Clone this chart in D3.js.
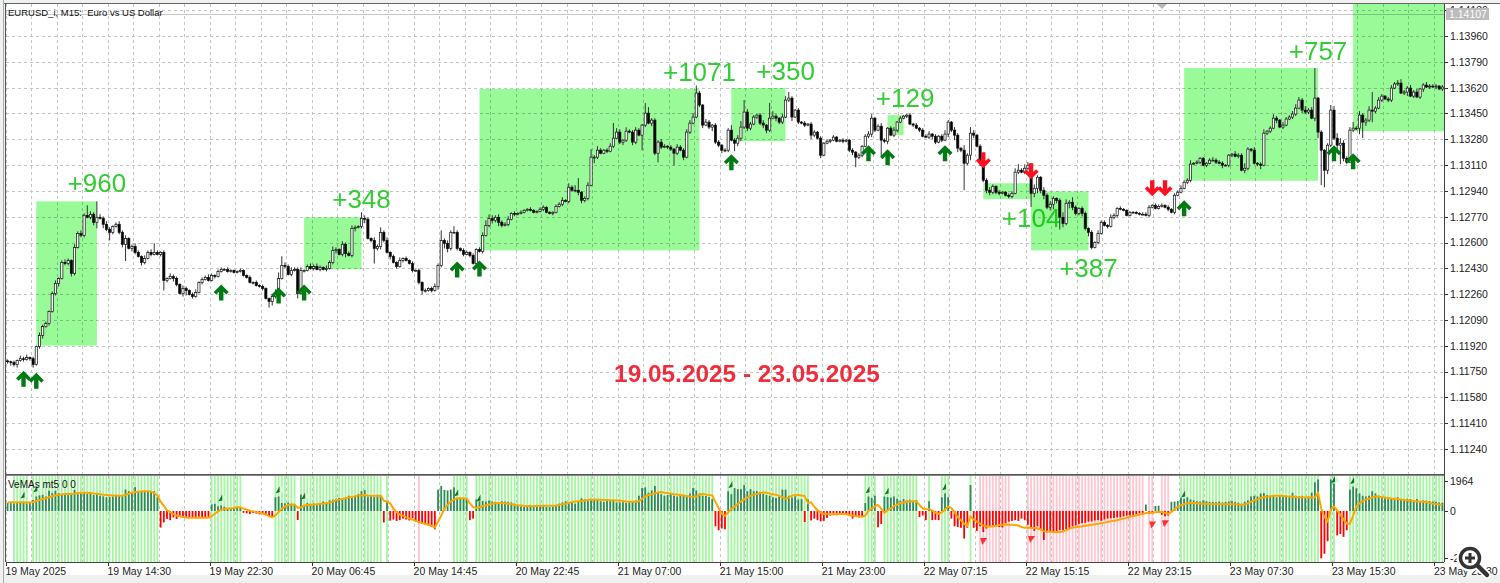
<!DOCTYPE html>
<html lang="en">
	<head>
		<meta charset="utf-8">
		<title>EURUSD M15 19.05.2025 - 23.05.2025</title>
		<script type="text/javascript" src="https://cdn.jsdelivr.net/npm/d3@7/dist/d3.min.js"></script>
		<style type="text/css">
			html, body { margin: 0; padding: 0; background: #fff; overflow: hidden; }
			svg { display: block; font-family: "Liberation Sans", Arial, sans-serif; }
			.grid { stroke: #c4c4c4; stroke-width: 1; stroke-dasharray: 3,3; fill: none; shape-rendering: crispEdges; }
			.axis path { display: none; }
			.axis line { stroke: #333; shape-rendering: crispEdges; }
			.axis text { fill: #222; font-size: 10.5px; font-family: "Liberation Sans", Arial, sans-serif; }
		</style>
	</head>
	<body>
		<script type="text/javascript">

			//Price axis values
			let priceTicks = [1.1413, 1.1396, 1.1379, 1.1362, 1.1345, 1.1328, 1.1311, 1.1294, 1.1277, 1.126, 1.1243, 1.1226, 1.1209, 1.1192, 1.1175, 1.1158, 1.1141, 1.1124];
			let lastPrice = 1.14107;

			//Time axis labels, one every 32 bars
			let timeLabels = ["19 May 2025", "19 May 14:30", "19 May 22:30", "20 May 06:45", "20 May 14:45", "20 May 22:45", "21 May 07:00", "21 May 15:00", "21 May 23:00", "22 May 07:15", "22 May 15:15", "22 May 23:15", "23 May 07:30", "23 May 15:30", "23 May 23:30"];

			//Prices are kept in points above this base
			let basePrice = 1.11;
			let firstOpen = 820;

			let closes = [
				815,809,796,822,835,829,842,835,796,914,987,1046,1066,1145,1264,1330,1363,1469,1462,1482,1396,1568,1660,1647,1779,1766,1786,1733,1766,1759,1720,1687,
				1667,1706,1720,1667,1588,1627,1561,1574,1535,1508,1469,1495,1535,1522,1535,1522,1535,1350,1363,1376,1363,1324,1264,1297,1284,1258,1244,1271,1337,1357,1370,1350,
				1383,1376,1409,1423,1423,1409,1416,1403,1409,1416,1383,1370,1337,1337,1317,1310,1297,1231,1211,1244,1271,1363,1449,1442,1390,1416,1423,1264,1416,1416,1442,1429,
				1442,1423,1436,1423,1429,1469,1548,1555,1522,1588,1528,1515,1693,1700,1706,1759,1753,1627,1614,1561,1574,1667,1614,1535,1508,1469,1442,1482,1495,1482,1462,1416,
				1416,1337,1284,1284,1297,1284,1310,1449,1614,1594,1561,1667,1667,1561,1548,1522,1535,1515,1462,1555,1541,1647,1713,1759,1746,1766,1733,1713,1720,1753,1792,1786,
				1792,1799,1812,1819,1812,1799,1805,1819,1832,1799,1792,1799,1838,1852,1878,1871,1964,1944,1944,1931,1878,1891,1977,2162,2162,2208,2188,2208,2201,2234,2287,2327,
				2261,2274,2333,2327,2261,2340,2307,2373,2452,2386,2406,2188,2261,2228,2234,2228,2215,2188,2228,2208,2162,2327,2386,2426,2584,2505,2373,2393,2360,2373,2261,2241,
				2208,2208,2340,2274,2254,2287,2360,2459,2353,2380,2426,2439,2386,2373,2340,2419,2432,2419,2393,2426,2538,2551,2426,2472,2393,2386,2373,2380,2307,2327,2287,2175,
				2254,2267,2274,2294,2267,2274,2267,2274,2208,2195,2162,2175,2234,2300,2314,2419,2340,2366,2274,2267,2353,2307,2340,2393,2419,2432,2439,2380,2373,2353,2340,2300,2294,
				2314,2300,2261,2300,2274,2314,2393,2340,2307,2221,2208,2122,2175,2320,2307,2234,2129,2010,1944,1931,1970,1931,1924,1931,1911,1904,1924,2063,2076,2063,2089,2109,
				1924,1957,2030,1944,1911,1832,1852,1891,1878,1766,1726,1858,1865,1832,1792,1825,1792,1693,1667,1568,1601,1660,1733,1713,1706,1766,1779,1825,1819,1812,1779,1799,
				1799,1792,1786,1786,1779,1832,1845,1825,1838,1845,1832,1819,1799,1911,1931,1957,1997,2010,2116,2122,2129,2155,2109,2122,2142,2142,2129,2122,2109,2109,2175,2182,
				2168,2175,2076,2089,2215,2208,2122,2116,2109,2320,2333,2353,2419,2406,2360,2373,2413,2426,2446,2485,2538,2472,2459,2472,2419,2551,2327,2208,2076,2241,2472,2287,2241,2254,2155,2129,2340,2353,2353,2439,2393,2406,2472,2465,2485,2538,2564,2545,2538,2617,2644,2650,2584,2591,2617,2564,2591,2558,2611,2637,2624,2630,2624,2630,2611,2624
			];

			//Wick lengths in points above the body
			let wickUp = [
				10,7,13,7,20,13,20,7,13,7,20,13,13,7,13,20,7,13,20,13,7,20,13,20,13,66,20,13,105,20,13,20,
				13,7,13,20,13,20,7,13,20,13,7,20,13,20,60,13,7,13,7,20,13,13,7,20,13,7,13,20,7,13,13,20,
				13,7,13,13,7,13,7,7,7,13,7,7,13,7,13,7,13,7,7,13,20,40,60,20,13,20,13,13,20,7,13,20,
				13,20,13,7,20,13,26,13,7,20,13,13,20,13,7,40,20,13,7,20,13,33,13,20,7,13,7,20,7,13,7,13,
				7,13,7,13,7,13,20,13,66,13,20,13,40,13,7,13,13,7,13,7,13,20,33,26,20,13,20,13,13,20,7,13,
				7,13,7,7,13,7,7,13,13,7,7,7,13,13,20,7,26,13,33,80,7,13,20,53,13,26,13,7,13,20,100,26,
				20,7,26,13,13,20,13,7,66,40,13,13,13,20,13,7,13,7,20,13,13,20,20,26,50,13,7,20,13,7,13,13,
				7,13,13,33,13,20,40,79,20,13,13,7,13,20,7,100,33,13,7,20,26,40,13,7,13,7,13,7,13,13,7,13,
				7,13,7,13,7,7,13,7,7,13,7,13,7,13,20,26,7,13,20,13,7,13,20,7,13,7,7,13,7,13,7,13,
				13,20,7,13,7,13,26,13,7,20,13,7,33,13,40,20,7,13,7,13,20,13,7,13,7,7,13,13,26,40,13,26,
				20,13,26,13,7,20,13,20,13,7,13,33,26,13,33,13,7,13,13,7,13,7,20,13,13,7,20,13,7,13,7,7,
				7,7,7,7,13,13,13,7,13,13,13,7,13,7,13,13,20,13,13,26,7,13,7,7,7,13,20,13,13,13,7,7,
				7,20,13,13,33,13,7,20,7,13,26,7,13,26,13,7,20,13,13,20,26,20,13,26,13,20,198,7,13,7,13,33,
				26,33,33,20,13,20,40,13,26,13,13,26,119,13,20,13,7,13,20,13,20,26,13,13,20,13,20,7,13,20,13,13,
				13,7,13
			];

			//Wick lengths in points below the body
			let wickDown = [
				13,20,13,20,7,13,7,13,20,7,13,20,7,13,7,13,20,7,13,13,20,13,7,13,13,7,13,20,40,7,26,13,
				53,13,7,13,20,110,7,20,13,7,20,13,7,13,7,7,13,66,13,7,20,13,7,20,33,7,13,7,7,13,7,7,
				7,13,7,7,7,7,7,7,7,7,7,7,7,13,7,7,13,7,40,26,13,26,7,13,7,13,7,33,7,13,7,7,
				13,7,13,7,13,7,13,20,7,13,26,7,13,20,7,13,26,7,13,100,13,20,13,7,20,7,13,7,13,7,7,13,
				7,13,26,13,7,13,7,20,13,33,26,13,7,13,7,13,7,13,7,13,7,13,7,13,20,13,26,13,7,13,7,13,
				7,7,7,7,7,7,7,7,13,7,7,13,7,7,13,7,13,7,13,20,20,13,13,7,40,13,7,7,13,7,13,7,
				13,20,13,7,20,13,7,100,13,7,20,13,60,13,7,13,13,80,13,7,20,7,13,7,7,13,20,7,13,26,13,13,
				20,13,13,7,53,20,20,13,20,13,7,13,13,20,20,13,7,20,13,13,7,13,26,7,13,7,13,7,26,13,7,20,
				7,7,13,7,7,7,13,7,13,20,66,13,13,7,13,20,13,7,105,13,20,7,13,13,7,7,13,7,13,7,13,7,
				7,13,20,13,7,13,7,20,13,33,26,13,178,13,33,20,7,26,13,20,20,13,13,13,7,7,13,13,7,13,7,13,
				13,90,26,33,20,26,13,20,33,20,80,26,13,33,20,13,13,20,13,26,13,7,13,7,7,13,7,13,13,7,7,7,
				7,7,7,7,7,7,13,7,7,7,7,7,13,7,13,7,7,7,13,13,7,7,13,7,13,7,7,13,7,20,7,13,
				13,7,13,7,20,13,13,7,13,26,7,13,13,7,20,7,13,7,7,13,13,7,20,13,13,7,20,40,230,112,26,13,
				13,26,125,20,13,7,13,13,40,105,26,13,73,13,7,13,7,13,13,7,13,7,13,26,7,13,7,13,20,7,13,7,
				13,7,13
			];

			//Green boxes on the price pane: first bar, last bar, top and bottom in points
			let boxFrom   = [9, 93, 148, 227, 276, 306, 321, 369, 422];
			let boxTo     = [28, 111, 217, 244, 281, 321, 339, 411, 451];
			let boxTop    = [1871, 1766, 2611, 2617, 2439, 1990, 1937, 2749, 3172];
			let boxBottom = [921, 1423, 1548, 2267, 2307, 1885, 1548, 2007, 2333];

			//Profit labels
			let profitText  = ["+960", "+348", "+1071", "+350", "+129", "+104", "+387", "+757"];
			let profitBar   = [28, 111, 217, 244, 281.5, 321, 339, 411];
			let profitPrice = [1931, 1825, 2663, 2670, 2492, 1700, 1370, 2802];

			//Buy and sell signals
			let buyBar    = [5, 9, 67, 85, 93, 141, 148, 227, 270, 276, 294, 369, 416, 422];
			let buyPrice  = [703, 690, 1271, 1251, 1271, 1423, 1429, 2129, 2188, 2162, 2188, 1825, 2188, 2135];
			let buyLevel  = [1080, 1490, 880, 1420, 1015, 1220, 880, 1760, 1420, 1350, 1620, 1150, 2100, 2030];
			let sellBar   = [306, 321, 359, 363];
			let sellPrice = [2142, 2069, 1957, 1957];
			let sellLevel = [-1960, -1830, -880, -810];

			//VeMAs histogram
			let hist = [
				520,520,500,520,540,520,500,540,720,950,1020,1060,950,1330,1170,1330,1170,1100,1120,1040,1170,1380,1100,1140,1190,1120,1150,1040,1120,1000,960,900,
				920,950,1000,980,1020,1400,1300,1250,1560,1290,1250,1290,1290,1250,1290,900,-1085,-750,-520,-600,-420,-520,-400,-450,-380,-450,-400,-430,-380,-420,-400,-380,
				430,470,300,360,280,180,150,170,200,190,-120,-150,-200,-130,-170,-220,-200,-280,-350,-420,900,950,520,500,560,480,430,-590,1060,400,520,480,
				500,460,520,620,560,700,740,800,850,780,900,1000,860,950,1120,1300,1360,950,1000,930,960,1000,-750,650,-630,-560,-650,-600,-500,-560,-620,-480,
				-700,-780,-850,-900,-950,-1050,-1200,1400,1640,1380,1350,1400,1550,820,800,830,800,-600,-500,760,820,660,620,680,620,600,580,640,620,600,560,480,
				320,300,280,350,400,350,280,300,320,280,260,300,360,480,560,640,540,600,480,620,830,760,720,700,740,760,640,600,720,700,650,560,
				560,580,540,600,620,700,1000,1500,1550,1200,1350,1640,1250,1100,1000,1050,1100,1000,950,1020,1000,950,1150,1500,1350,1150,1000,980,920,780,-1000,-1260,
				-1150,-1200,1290,1100,1500,1430,1430,1700,1300,1430,1300,1300,1250,1120,1050,1000,900,850,1030,1400,1400,1000,880,960,760,780,-720,760,-620,-500,-600,-680,
				-650,-450,-300,-280,-280,-230,-210,-250,-240,-500,-350,-420,-350,520,950,860,1000,-1070,-850,950,920,880,950,800,680,780,700,740,680,720,-400,-300,
				-600,640,-600,-580,-600,900,1150,900,-500,-1000,-1050,-1100,-1800,-1100,1700,-1100,-1300,-1000,-1380,-1150,-1000,-950,-1000,-1050,-1080,-800,-700,-650,-600,-650,-500,-600,
				-900,-1100,-1300,-1000,-1250,-1900,-1400,-1300,-1350,-1380,-1250,-1260,-1180,-1100,-1000,-950,-850,-800,-780,-700,-680,-620,-600,-640,-560,-500,-480,-460,-420,-420,-350,-300,
				-300,-250,-200,-150,-120,420,-200,-150,330,350,-250,-350,-300,600,620,650,880,800,900,760,700,640,620,700,640,600,600,580,620,560,600,620,
				650,600,550,480,600,700,950,1000,950,1150,1170,1050,1000,950,900,1000,950,1000,900,1190,1000,950,1000,900,950,1200,1880,2070,-3100,-2800,-1980,2070,
				1800,-1600,-1500,-1690,-1260,1400,1600,1480,1150,1000,950,1000,1300,1150,1000,950,850,780,800,750,900,780,750,800,780,700,780,650,700,680,650,620,
				600,560,540
			];

			//VeMAs orange line
			let signal = [
				560,565,565,560,565,565,560,560,580,655,720,790,835,900,970,1015,1060,1085,1105,1105,1105,1130,1175,1200,1200,1200,1175,1150,1130,1105,1060,1040,
				1030,1020,1010,1000,1000,1060,1130,1200,1240,1265,1290,1290,1290,1265,1175,1015,610,340,45,-70,-200,-290,-340,-385,-430,-450,-450,-450,-450,-450,-450,-450,
				-340,-180,-25,90,135,160,160,200,250,250,160,90,20,-25,-70,-110,-160,-225,-340,-405,-290,-70,160,295,385,430,430,200,250,340,385,385,
				430,430,475,475,520,540,610,720,745,790,835,880,925,970,1015,1015,1040,1015,995,995,995,995,680,610,500,140,-70,-240,-300,-400,-480,-560,
				-650,-720,-780,-830,-900,-960,-1070,-700,-300,160,400,620,760,830,830,830,800,500,250,200,250,330,380,430,480,500,520,520,500,480,450,400,
				380,360,340,330,320,300,340,350,350,350,350,350,360,400,450,480,520,580,620,640,660,680,720,760,760,740,730,720,720,700,700,690,
				680,660,620,600,600,600,640,800,950,1050,1100,1150,1220,1240,1200,1180,1150,1100,1080,1050,1020,980,950,930,950,1050,1120,1080,1050,1020,600,200,
				-200,-310,-100,150,285,450,620,760,880,1000,1070,1120,1170,1210,1200,1150,1100,1070,990,900,810,880,1000,1070,1050,1020,980,520,570,280,50,-100,
				-190,-200,-200,-190,-190,-190,-200,-220,-260,-300,-330,-360,-380,-300,0,165,300,400,150,-120,50,165,320,420,520,560,600,620,640,640,400,165,
				130,120,20,-100,-190,-100,100,285,200,-100,-400,-600,-850,-975,-360,-550,-700,-830,-950,-1020,-1020,-1000,-960,-920,-900,-890,-900,-900,-920,-950,-1050,-1100,
				-1100,-1100,-1110,-1130,-1200,-1330,-1350,-1360,-1370,-1380,-1380,-1350,-1250,-1150,-1080,-1060,-1030,-1000,-960,-930,-900,-870,-830,-800,-760,-720,-680,-640,-600,-550,-500,-450,
				-380,-330,-280,-230,-190,-140,-100,-110,-80,-70,-60,-120,-190,-60,120,285,380,450,500,520,520,510,490,480,470,460,450,450,450,460,450,450,
				450,450,420,400,420,500,600,700,760,850,900,950,950,1000,1000,1000,980,960,950,950,920,900,900,880,880,880,900,1190,165,-400,-670,100,
				285,50,-250,-550,-830,-830,-300,285,500,650,760,800,880,950,950,900,880,850,820,800,780,750,720,700,680,650,620,600,600,590,540,480,
				450,420,400
			];

			//Background stripes behind the histogram, bar ranges
			let greenFrom = [2, 8, 64, 84, 92, 119, 140, 147, 226, 269, 275, 289, 293, 302, 368, 415, 421];
			let greenTo   = [6, 47, 73, 90, 117, 119, 144, 221, 251, 272, 285, 289, 295, 302, 411, 416, 450];
			let pinkFrom  = [129, 305, 320, 358, 362];
			let pinkTo    = [129, 314, 356, 359, 364];

			//VeMAs axis
			let paneTicks  = [1964, 0, -3100];
			let paneLabels = ["1964", "0", "-2964"];

			//Width and height
			let w = 1500;
			let h = 583;
			let barCount = closes.length;

			let left = 6, right = 1444;
			let mainBottom = 474, paneTop = 476, paneBottom = 562;

			//Scales
			let x = d3.scaleLinear().domain([0, 451]).range([left, right]);
			let y = d3.scaleLinear().domain([1.1124, 1.1396]).range([449, 36]);
			let yp = d3.scaleLinear().domain([0, 1964]).range([511, 481]);

			//Bar centre and points to price helpers
			let cx = (i)=> x(i + 0.5);
			let price = (v)=> basePrice + v / 100000;

			//Create SVG element
			let svg = d3.select("body")
						.append("svg")
						.attr("width", w)
						.attr("height", h);

			//Window frame
			svg.append("rect").attr("width", w).attr("height", h).attr("fill", "#f0f0f0");
			svg.append("rect").attr("x", 5).attr("y", 4).attr("width", w - 5).attr("height", 571).attr("fill", "#fff");

			//Clip regions
			let defs = svg.append("defs");
			defs.append("clipPath").attr("id", "mainClip").append("rect")
				.attr("x", left).attr("y", 4).attr("width", right - left).attr("height", mainBottom - 4);
			defs.append("clipPath").attr("id", "paneClip").append("rect")
				.attr("x", left).attr("y", paneTop).attr("width", right - left).attr("height", paneBottom - paneTop);

			let main = svg.append("g").attr("clip-path", "url(#mainClip)");
			let pane = svg.append("g").attr("clip-path", "url(#paneClip)");

			//Grid lines, vertical every 8 bars
			let gridBars = d3.range(0, 452, 8);

			main.selectAll(".gv").data(gridBars).enter().append("line")
				.attr("class", "grid")
				.attr("x1", (d)=> Math.floor(x(d)) + 0.5).attr("x2", (d)=> Math.floor(x(d)) + 0.5)
				.attr("y1", 4).attr("y2", mainBottom);

			main.selectAll(".gh").data(priceTicks).enter().append("line")
				.attr("class", "grid")
				.attr("x1", left).attr("x2", right)
				.attr("y1", (d)=> Math.round(y(d)) + 0.5).attr("y2", (d)=> Math.round(y(d)) + 0.5);

			pane.selectAll(".gv").data(gridBars).enter().append("line")
				.attr("class", "grid")
				.attr("x1", (d)=> Math.floor(x(d)) + 0.5).attr("x2", (d)=> Math.floor(x(d)) + 0.5)
				.attr("y1", paneTop).attr("y2", paneBottom);

			//Last price line
			main.append("line")
				.attr("x1", left).attr("x2", right)
				.attr("y1", Math.round(y(lastPrice)) + 0.5).attr("y2", Math.round(y(lastPrice)) + 0.5)
				.style("stroke", "#c8c8c8");

			//Profit labels go under the boxes
			main.selectAll(".profit").data(profitText).enter().append("text")
				.attr("x", (d, i)=> cx(profitBar[i]))
				.attr("y", (d, i)=> y(price(profitPrice[i])))
				.attr("text-anchor", "middle")
				.style("font-size", "26px")
				.style("fill", "#32cd32")
				.text((d)=> d);

			//Green boxes
			main.selectAll(".box").data(boxFrom).enter().append("rect")
				.attr("x", (d)=> cx(d))
				.attr("width", (d, i)=> cx(boxTo[i]) - cx(d))
				.attr("y", (d, i)=> y(price(boxTop[i])))
				.attr("height", (d, i)=> y(price(boxBottom[i])) - y(price(boxTop[i])))
				.style("fill", "#98fb98")
				.style("mix-blend-mode", "multiply");

			//Date caption
			main.append("text")
				.attr("x", (left + right) / 2 + 22)
				.attr("y", 382)
				.attr("text-anchor", "middle")
				.style("font-size", "24.4px")
				.style("font-weight", "bold")
				.style("fill", "#ee2e3c")
				.text("19.05.2025 - 23.05.2025");

			//Candles
			let candles = closes.map((c, i)=> {
				let o = i == 0 ? firstOpen : closes[i - 1];
				return {
					i: i,
					o: o,
					c: c,
					h: Math.max(o, c) + (wickUp[i] || 0),
					l: Math.min(o, c) - (wickDown[i] || 0)
				};
			});

			main.selectAll(".wick").data(candles).enter().append("line")
				.attr("x1", (d)=> cx(d.i)).attr("x2", (d)=> cx(d.i))
				.attr("y1", (d)=> y(price(d.h))).attr("y2", (d)=> y(price(d.l)))
				.style("stroke", "#333")
				.style("stroke-width", 1);

			main.selectAll(".body").data(candles).enter().append("rect")
				.attr("x", (d)=> cx(d.i) - 1.1)
				.attr("width", 2.2)
				.attr("y", (d)=> y(price(Math.max(d.o, d.c))))
				.attr("height", (d)=> Math.max(0.8, Math.abs(y(price(d.o)) - y(price(d.c)))))
				.style("fill", (d)=> d.c >= d.o ? "#fff" : "#000")
				.style("stroke", "#111")
				.style("stroke-width", 0.7);

			//Big arrows
			let bigArrow = "M0,-8L7.5,-0.5L5,2L2.2,-0.8L2.2,8L-2.2,8L-2.2,-0.8L-5,2L-7.5,-0.5Z";

			main.selectAll(".buy").data(buyBar).enter().append("path")
				.attr("d", bigArrow)
				.attr("transform", (d, i)=> "translate(" + cx(d) + "," + y(price(buyPrice[i])) + ")")
				.style("fill", "#007a12");

			main.selectAll(".sell").data(sellBar).enter().append("path")
				.attr("d", bigArrow)
				.attr("transform", (d, i)=> "translate(" + cx(d) + "," + y(price(sellPrice[i])) + ") scale(1,-1)")
				.style("fill", "#ff1020");

			//Stripes behind histogram
			let stripes = [];
			greenFrom.forEach((d, k)=> {
				d3.range(d, greenTo[k] + 1).forEach((i)=> stripes.push({ i: i, col: "#a4f7a0" }));
			});
			pinkFrom.forEach((d, k)=> {
				d3.range(d, pinkTo[k] + 1).forEach((i)=> stripes.push({ i: i, col: "#ffc6d0" }));
			});

			pane.selectAll(".stripe").data(stripes).enter().append("rect")
				.attr("x", (d)=> cx(d.i) - 0.9)
				.attr("width", 1.8)
				.attr("y", paneTop)
				.attr("height", paneBottom - paneTop)
				.style("fill", (d)=> d.col);

			//Histogram bars
			pane.selectAll(".hist").data(hist).enter().append("rect")
				.attr("x", (d, i)=> cx(i) - 0.9)
				.attr("width", 1.8)
				.attr("y", (d)=> Math.min(yp(d), yp(0)))
				.attr("height", (d)=> Math.abs(yp(d) - yp(0)))
				.style("fill", (d)=> d >= 0 ? "#2e8b57" : "#ff0000");

			//Orange line
			let line = d3.line()
						 .x((d, i)=> cx(i))
						 .y((d)=> yp(d));

			pane.append("path")
				.attr("d", line(signal))
				.style("fill", "none")
				.style("stroke", "#ffa500")
				.style("stroke-width", 2);

			//Small signal markers in the indicator pane
			pane.selectAll(".mini-shade").data(buyBar).enter().append("path")
				.attr("d", "M-1,4L3,-3L5,3Z")
				.attr("transform", (d, i)=> "translate(" + cx(d) + "," + yp(buyLevel[i]) + ")")
				.style("fill", "#d8f5d8");
			pane.selectAll(".mini-buy").data(buyBar).enter().append("path")
				.attr("d", "M-3,4L1,-3L1,3Z")
				.attr("transform", (d, i)=> "translate(" + cx(d) + "," + yp(buyLevel[i]) + ")")
				.style("fill", "#0a7a20");
			pane.selectAll(".mini-sell").data(sellBar).enter().append("path")
				.attr("d", "M-3,-3L4,-3L-1,4Z")
				.attr("transform", (d, i)=> "translate(" + cx(d) + "," + yp(sellLevel[i]) + ")")
				.style("fill", "#ff3030");

			//Captions inside the panes
			svg.append("text").attr("x", 8).attr("y", 15.5)
				.style("font-size", "9.5px").style("fill", "#111").style("white-space", "pre")
				.text("EURUSD_i, M15:  Euro vs US Dollar");
			svg.append("text").attr("x", 8).attr("y", 488)
				.style("font-size", "10px").style("fill", "#111")
				.text("VeMAs mt5 0 0");

			//Axes
			let priceAxis = d3.axisRight(y)
							  .tickValues(priceTicks)
							  .tickFormat(d3.format(".5f"))
							  .tickSize(4)
							  .tickPadding(2);

			svg.append("g")
				.attr("class", "axis")
				.attr("transform", "translate(" + right + ",0)")
				.call(priceAxis);

			let paneAxis = d3.axisRight(yp)
							 .tickValues(paneTicks)
							 .tickFormat((d, i)=> paneLabels[i])
							 .tickSize(4)
							 .tickPadding(2);

			svg.append("g")
				.attr("class", "axis")
				.attr("transform", "translate(" + right + ",0)")
				.call(paneAxis);

			let timeAxis = d3.axisBottom(x)
							 .tickValues(timeLabels.map((d, i)=> i * 32))
							 .tickFormat((d, i)=> timeLabels[i])
							 .tickSize(4)
							 .tickPadding(2);

			svg.append("g")
				.attr("class", "axis")
				.attr("transform", "translate(0," + paneBottom + ")")
				.call(timeAxis)
				.selectAll("text")
				.attr("text-anchor", "start")
				.attr("dx", -1);

			//Pane borders
			let borders = [
				[4, 3.5, w, 3.5, "#666"],
				[left - 0.5, 4, left - 0.5, paneBottom, "#555"],
				[3, 0, 3, 583, "#aaa"],
				[right + 0.5, 4, right + 0.5, paneBottom, "#444"],
				[left, 474.5, right, 474.5, "#555"],
				[left, 475.5, right, 475.5, "#888"],
				[left, paneBottom + 0.5, right, paneBottom + 0.5, "#444"]
			];

			svg.selectAll(".border").data(borders).enter().append("line")
				.attr("x1", (d)=> d[0]).attr("y1", (d)=> d[1])
				.attr("x2", (d)=> d[2]).attr("y2", (d)=> d[3])
				.style("stroke", (d)=> d[4])
				.style("shape-rendering", "crispEdges");

			//Shift marker at the top
			svg.append("path")
				.attr("d", "M1157,4L1167,4L1162,9Z")
				.style("fill", "#b8b8b8");

			//Last price badge
			svg.append("rect")
				.attr("x", 1446).attr("y", Math.round(y(lastPrice)) - 6)
				.attr("width", 43).attr("height", 12)
				.style("fill", "#bcbcbc");
			svg.append("text")
				.attr("x", 1449).attr("y", Math.round(y(lastPrice)) + 4)
				.style("font-size", "10.5px").style("fill", "#fff")
				.text(d3.format(".5f")(lastPrice));

			//Magnifier
			let lens = svg.append("g").attr("transform", "translate(1470,558)");
			lens.append("line").attr("x1", 7).attr("y1", 7).attr("x2", 17).attr("y2", 17)
				.style("stroke", "#fff").style("stroke-width", 8).style("stroke-linecap", "round");
			lens.append("circle").attr("r", 10.5).style("fill", "#fff").style("stroke", "#fff").style("stroke-width", 6);
			lens.append("line").attr("x1", 7).attr("y1", 7).attr("x2", 17).attr("y2", 17)
				.style("stroke", "#333").style("stroke-width", 4.5).style("stroke-linecap", "round");
			lens.append("circle").attr("r", 9.5).style("fill", "#fff").style("stroke", "#333").style("stroke-width", 3.5);
			lens.append("path").attr("d", "M-5,0H5M0,-5V5").style("stroke", "#333").style("stroke-width", 3);

		</script>
	</body>
</html>
